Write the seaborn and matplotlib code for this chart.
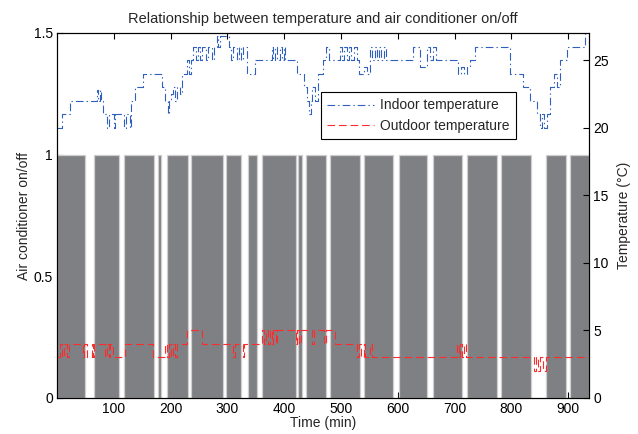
import numpy as np
import pandas as pd
import matplotlib
matplotlib.use("Agg")
import matplotlib.pyplot as plt
import seaborn as sns

# ---- data ----
# air conditioner "on" intervals (min)
ac_on_start = [0, 65, 117.6, 178.5, 193.8, 235.6, 297.7, 337, 360.6, 425, 439, 480.3, 540.7,
               601.8, 661.6, 722.5, 781.9, 859.9, 902.8]
ac_on_end = [49.5, 109.9, 171.5, 182.7, 231.3, 293, 323.6, 351.8, 421, 432, 474.3, 533.6, 592.3,
             652.1, 713.7, 774.3, 834.7, 895.8, 937]

indoor_time = [0, 8, 23, 70, 73, 75, 78, 81, 88, 91, 100, 103, 118, 121, 128, 131, 137, 152, 184, 190,
               195, 197, 200, 204, 208, 212, 216, 220, 228, 232, 236, 240, 244, 248, 252, 256, 262,
               266, 272, 276, 281, 284, 287, 302, 306, 310, 316, 320, 324, 328, 334, 349, 378, 381,
               384, 388, 392, 396, 399, 402, 422, 434, 440, 444, 447, 449, 455, 460, 469, 474, 478,
               498, 502, 506, 510, 514, 518, 522, 528, 531, 540, 545, 551, 555, 559, 563, 567, 571,
               575, 580, 627, 639, 651, 656, 662, 668, 706, 712, 716, 722, 727, 735, 798, 820, 833,
               845, 850, 854, 858, 862, 868, 875, 880, 886, 897, 930, 937]
indoor_temp = [20, 21, 22, 22.8, 22, 22.8, 22, 21, 20, 21, 20, 21, 20, 21, 20, 22, 23, 24, 23, 22,
               21, 22, 22.5, 23, 22, 23, 22.5, 24, 25, 24, 25, 26, 25, 26, 25, 26, 25,
               26, 25, 26, 26.8, 26, 26.8, 26, 25, 26, 25, 26, 25, 26, 24, 25, 26, 25,
               26, 25, 26, 25, 26, 25, 24, 23, 22, 21, 22, 23, 22, 24, 25, 26, 25,
               26, 25, 26, 25, 26, 25, 26, 25, 24, 24.5, 24, 26, 25, 26, 25, 26, 25,
               26, 25, 26, 24.5, 26, 25, 26, 25, 24, 24.5, 24, 24.5, 25, 26, 24, 23, 22,
               21, 20, 21, 20, 21, 23, 24, 23, 25, 26, 27, 27]

outdoor_time = [0, 5, 9, 13, 18, 22, 45, 48, 52, 61, 63, 66, 85, 88, 91, 94, 99, 120, 169, 190,
                194, 197, 200, 204, 208, 212, 228, 255, 310, 313, 327, 330, 360, 365, 368, 372, 375,
                378, 381, 385, 388, 420, 423, 426, 430, 449, 452, 470, 473, 490, 528, 532, 535, 540,
                543, 551, 554, 704, 707, 710, 713, 716, 720, 839, 843, 847, 851, 855, 860, 937]
outdoor_temp = [3, 4, 3, 4, 3, 4, 3, 4, 3, 4, 3, 4, 3, 4, 3, 4, 3, 4, 3, 4,
                3, 4, 3, 4, 3, 4, 5, 4, 3, 4, 3, 4, 5, 4, 5, 4, 5,
                4, 5, 4, 5, 4, 5, 4, 5, 4, 5, 4, 5, 4, 3, 4, 3, 4,
                3, 4, 3, 4, 3, 4, 3, 4, 3, 2, 3, 2, 3, 2, 3, 3]

x_ticks = [100, 200, 300, 400, 500, 600, 700, 800, 900]
left_ticks = [0, 0.5, 1, 1.5]
left_tick_labels = ["0", "0.5", "1", "1.5"]
right_ticks = [0, 5, 10, 15, 20, 25]

# ---- style ----
sns.set_style("ticks")
plt.rcParams["font.family"] = ["Liberation Sans", "DejaVu Sans"]
plt.rcParams["lines.scale_dashes"] = False
FS = 10

fig = plt.figure(figsize=(6.38, 4.34), dpi=100)
ax = fig.add_axes([0.0893, 0.083, 0.8344, 0.841])

starts = np.array(ac_on_start)
widths = np.array(ac_on_end) - starts
ax.bar(starts, np.ones_like(starts), width=widths, align="edge",
       color="#7f8083", edgecolor="#cfcfcf", linewidth=0.9, zorder=1)

ax.set_xlim(0, 937)
ax.set_ylim(0, 1.5)
ax.set_xticks(x_ticks)
ax.set_xticklabels([str(t) for t in x_ticks], fontsize=FS)
ax.set_yticks(left_ticks)
ax.set_yticklabels(left_tick_labels, fontsize=FS)
ax.tick_params(direction="in", length=4, width=0.8, top=True, colors="black", pad=3)
ax.set_xlabel("Time (min)", fontsize=FS, labelpad=0)
ax.set_ylabel("Air conditioner on/off", fontsize=FS, labelpad=2)
ax.set_title("Relationship between temperature and air conditioner on/off", fontsize=10.5, pad=7)

ax2 = ax.twinx()
df_in = pd.DataFrame({"t": indoor_time, "v": indoor_temp})
df_out = pd.DataFrame({"t": outdoor_time, "v": outdoor_temp})
sns.lineplot(data=df_in, x="t", y="v", ax=ax2, drawstyle="steps-post", color="#2f5fbf",
             linewidth=0.8, dashes=False, errorbar=None, label="Indoor temperature",
             sort=False, estimator=None)
sns.lineplot(data=df_out, x="t", y="v", ax=ax2, drawstyle="steps-post", color="#ff2a2a",
             linewidth=0.8, dashes=False, errorbar=None, label="Outdoor temperature",
             sort=False, estimator=None)
ax2.lines[0].set_linestyle((0, (5.5, 2.2, 1.0, 2.2)))
ax2.lines[1].set_linestyle((0, (5.5, 2.8)))

ax2.set_ylim(0, 27)
ax2.set_xlim(0, 937)
ax2.set_yticks(right_ticks)
ax2.set_yticklabels([str(t) for t in right_ticks], fontsize=FS)
ax2.tick_params(direction="in", length=4, width=0.8, colors="black", pad=3)
ax2.set_ylabel("Temperature (\u00b0C)", fontsize=FS, labelpad=6)
ax2.set_xlabel("")

for a in (ax, ax2):
    for s in a.spines.values():
        s.set_visible(True)
        s.set_linewidth(0.8)
        s.set_color("black")

leg = ax2.legend(loc="upper left", bbox_to_anchor=(0.496, 0.838), borderaxespad=0,
                 fontsize=FS, frameon=True, fancybox=False, framealpha=1,
                 edgecolor="black", handlelength=3.4, handletextpad=0.4,
                 borderpad=0.45, labelspacing=0.45)
leg.get_frame().set_linewidth(0.8)

fig.savefig("out.png", dpi=100)
